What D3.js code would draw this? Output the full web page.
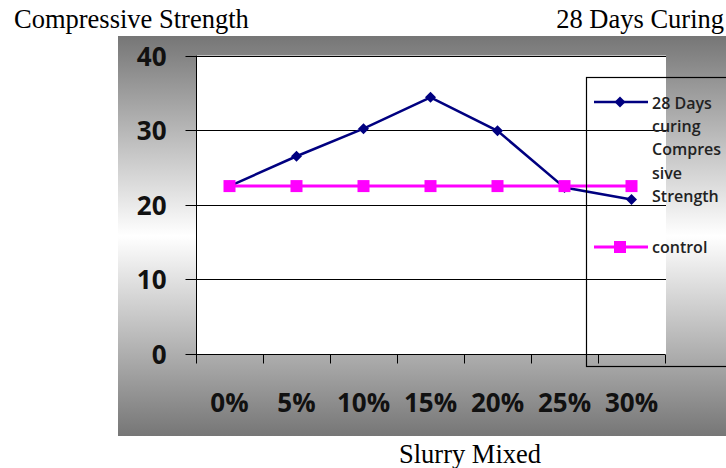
<!DOCTYPE html>
<html><head><meta charset="utf-8">
<script src="https://cdn.jsdelivr.net/npm/d3@7"></script>
<style>
html,body{margin:0;padding:0;background:#fff;}
svg{display:block;}
</style>
</head><body>
<svg id="c" width="726" height="468"></svg>
<script>
const categories = ["0%","5%","10%","15%","20%","25%","30%"];
const strength28 = [22.5, 26.5, 30.2, 34.4, 29.9, 22.3, 20.7];
const control = [22.5, 22.5, 22.5, 22.5, 22.5, 22.5, 22.5];
const yTicks = [0, 10, 20, 30, 40];
const seriesNames = [["28 Days","curing","Compres","sive","Strength"], ["control"]];
const titleLeft = "Compressive Strength";
const titleRight = "28 Days Curing";
const xTitle = "Slurry Mixed";

const svg = d3.select("#c");
const defs = svg.append("defs");
const grad = defs.append("linearGradient").attr("id","bg").attr("x1",0).attr("y1",0).attr("x2",0).attr("y2",1);
grad.append("stop").attr("offset","0%").attr("stop-color","#767676");
grad.append("stop").attr("offset","50%").attr("stop-color","#ffffff");
grad.append("stop").attr("offset","100%").attr("stop-color","#767676");

// chart frame background
svg.append("rect").attr("x",118).attr("y",36).attr("width",608).attr("height",400).attr("fill","url(#bg)");

const x = d3.scaleBand().domain(categories).range([196,665]).padding(0);
const y = d3.scaleLinear().domain([0,40]).range([354,55.5]);
const cx = d => x(d) + x.bandwidth()/2;

// plot area
svg.append("rect").attr("x",196).attr("y",y(40)).attr("width",470).attr("height",y(0)-y(40)).attr("fill","#fff");

// gridlines
svg.append("g").selectAll("line").data(yTicks.filter(v=>v>0)).join("line")
  .attr("x1",196).attr("x2",666).attr("y1",d=>Math.round(y(d))+0.5).attr("y2",d=>Math.round(y(d))+0.5)
  .attr("stroke","#000").attr("stroke-width",1);

// y axis
const yAxis = svg.append("g").attr("transform","translate(196.5,0)")
  .call(d3.axisLeft(y).tickValues(yTicks).tickSize(11).tickPadding(19).tickFormat(d3.format("d")));
yAxis.select(".domain").attr("stroke","#000").attr("d",`M0,${y(40)}V${y(0)}`);
yAxis.selectAll(".tick line").attr("stroke","#000");
yAxis.selectAll(".tick").attr("transform",d=>`translate(0,${Math.round(y(d))+0.5})`);
yAxis.selectAll("text").attr("font-family","'Open Sans',sans-serif").attr("font-weight",700).attr("font-size",26).attr("fill","#111").attr("dy","0.36em");

// x axis
const xAxis = svg.append("g").attr("transform",`translate(0,${Math.round(y(0))+0.5})`)
  .call(d3.axisBottom(x).tickSize(0).tickPadding(39));
xAxis.select(".domain").attr("stroke","#000").attr("d",`M196,0H665`);
xAxis.selectAll("text").attr("font-family","'Open Sans',sans-serif").attr("font-weight",700).attr("font-size",26).attr("fill","#111");
const bounds = categories.map(c=>x(c)).concat([x.range()[1]]);
xAxis.append("g").selectAll("line").data(bounds).join("line")
  .attr("x1",d=>Math.round(d)+0.5).attr("x2",d=>Math.round(d)+0.5).attr("y1",0).attr("y2",9).attr("stroke","#000");

// series
const line = d3.line().x((d,i)=>cx(categories[i])).y(d=>y(d));
svg.append("path").datum(strength28).attr("d",line).attr("fill","none").attr("stroke","#000080").attr("stroke-width",2.5);
const diamond = (px,py,r) => `M${px},${py-r}L${px+r},${py}L${px},${py+r}L${px-r},${py}Z`;
svg.append("g").selectAll("path").data(strength28).join("path")
  .attr("d",(d,i)=>diamond(cx(categories[i]),y(d),5.5)).attr("fill","#000080");

svg.append("path").datum(control).attr("d",line).attr("fill","none").attr("stroke","#ff00ff").attr("stroke-width",3);
svg.append("g").selectAll("rect").data(control).join("rect")
  .attr("x",(d,i)=>cx(categories[i])-6).attr("y",d=>y(d)-6).attr("width",12).attr("height",12).attr("fill","#ff00ff");

// legend
const lg = svg.append("g");
lg.append("rect").attr("x",586.5).attr("y",77.5).attr("width",200).attr("height",289).attr("fill","none").attr("stroke","#000").attr("stroke-width",1.2);
lg.append("line").attr("x1",594).attr("x2",648).attr("y1",102).attr("y2",102).attr("stroke","#000080").attr("stroke-width",2.5);
lg.append("path").attr("d",diamond(620,102,5.5)).attr("fill","#000080");
lg.append("line").attr("x1",594).attr("x2",648).attr("y1",247).attr("y2",247).attr("stroke","#ff00ff").attr("stroke-width",3);
lg.append("rect").attr("x",614).attr("y",241).attr("width",12).attr("height",12).attr("fill","#ff00ff");
const lt = lg.append("text").attr("font-family","'Open Sans',sans-serif").attr("font-weight",600).attr("font-size",16).attr("fill","#222");
seriesNames[0].forEach((s,i)=>lt.append("tspan").attr("x",652).attr("y",109+i*23.2).text(s));
lg.append("text").attr("x",652).attr("y",253).attr("font-family","'Open Sans',sans-serif").attr("font-weight",600).attr("font-size",16).attr("fill","#222").text(seriesNames[1][0]);

// titles
const serif = "'Liberation Serif','Times New Roman',serif";
svg.append("text").attr("x",14).attr("y",28).attr("font-family",serif).attr("font-size",26.5).attr("fill","#000").text(titleLeft);
svg.append("text").attr("x",724).attr("y",28).attr("text-anchor","end").attr("font-family",serif).attr("font-size",26.5).attr("fill","#000").text(titleRight);
svg.append("text").attr("x",470).attr("y",463).attr("text-anchor","middle").attr("font-family",serif).attr("font-size",26.5).attr("fill","#000").text(xTitle);
</script>
</body></html>
